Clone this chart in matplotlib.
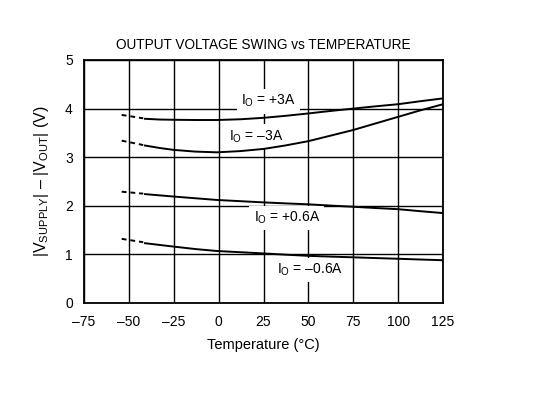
import matplotlib
matplotlib.use("Agg")
import matplotlib.pyplot as plt

plt.rcParams["font.family"] = ["Liberation Sans", "DejaVu Sans"]
plt.rcParams["mathtext.fontset"] = "custom"
plt.rcParams["mathtext.rm"] = "Liberation Sans"

# temperature points (°C) where the curves were read
temp_solid = [-41, -33, -25, -13, -1, 12, 25, 37, 50, 62, 75, 87, 100, 112, 125]
temp_dash = [-54, -42]

# |Vsupply| - |Vout| (V) for each load current
pos3_solid = [3.79, 3.775, 3.77, 3.765, 3.765, 3.78, 3.81, 3.85, 3.90, 3.95, 4.00, 4.045, 4.09, 4.15, 4.21]
pos3_dash = [3.87, 3.80]
neg3_solid = [3.24, 3.19, 3.15, 3.115, 3.10, 3.125, 3.17, 3.24, 3.33, 3.44, 3.56, 3.69, 3.83, 3.96, 4.09]
neg3_dash = [3.34, 3.25]
pos06_solid = [2.24, 2.215, 2.19, 2.155, 2.12, 2.095, 2.07, 2.05, 2.03, 2.005, 1.98, 1.955, 1.93, 1.89, 1.85]
pos06_dash = [2.29, 2.25]
neg06_solid = [1.23, 1.195, 1.16, 1.11, 1.07, 1.045, 1.02, 0.995, 0.97, 0.955, 0.94, 0.925, 0.91, 0.895, 0.88]
neg06_dash = [1.32, 1.25]

labels = [r"I$_\mathregular{O}$ = +3A", r"I$_\mathregular{O}$ = –3A",
          r"I$_\mathregular{O}$ = +0.6A", r"I$_\mathregular{O}$ = –0.6A"]
label_pos = [(28, 4.15), (21, 3.42), (38, 1.75), (51, 0.68)]

fig = plt.figure(figsize=(5.5, 3.97), dpi=100)
ax = fig.add_axes([0.1527, 0.2368, 0.6528, 0.6121])

for ys, yd in [(pos3_solid, pos3_dash), (neg3_solid, neg3_dash),
               (pos06_solid, pos06_dash), (neg06_solid, neg06_dash)]:
    ax.plot(temp_solid, ys, color="black", lw=1.4, zorder=4)
    ax.plot(temp_dash, yd, color="black", lw=1.4, ls=(0, (2.5, 2)), zorder=4)

for txt, (x, y) in zip(labels, label_pos):
    ax.text(x, y, txt, fontsize=10, ha="center", va="center", zorder=3,
            bbox=dict(facecolor="white", edgecolor="none", pad=3))

ax.set_xlim(-75, 125)
ax.set_ylim(0, 5)
ax.set_xticks(range(-75, 126, 25))
ax.set_xticklabels([str(t).replace("-", "–") for t in range(-75, 126, 25)])
ax.set_yticks(range(0, 6))
ax.grid(True, color="black", lw=1.0, zorder=1)
ax.set_axisbelow(True)
ax.tick_params(length=0, labelsize=10)
ax.tick_params(axis="x", pad=9)
ax.tick_params(axis="y", pad=8)
for s in ax.spines.values():
    s.set_linewidth(1.3)

ax.set_title("OUTPUT VOLTAGE SWING vs TEMPERATURE", fontsize=9.8, pad=8)
ax.set_xlabel("Temperature (°C)", fontsize=10.5, labelpad=6)
ax.set_ylabel(r"|V$_\mathregular{SUPPLY}$| – |V$_\mathregular{OUT}$| (V)", fontsize=11.5, labelpad=10)

fig.savefig("out.png", dpi=100)
